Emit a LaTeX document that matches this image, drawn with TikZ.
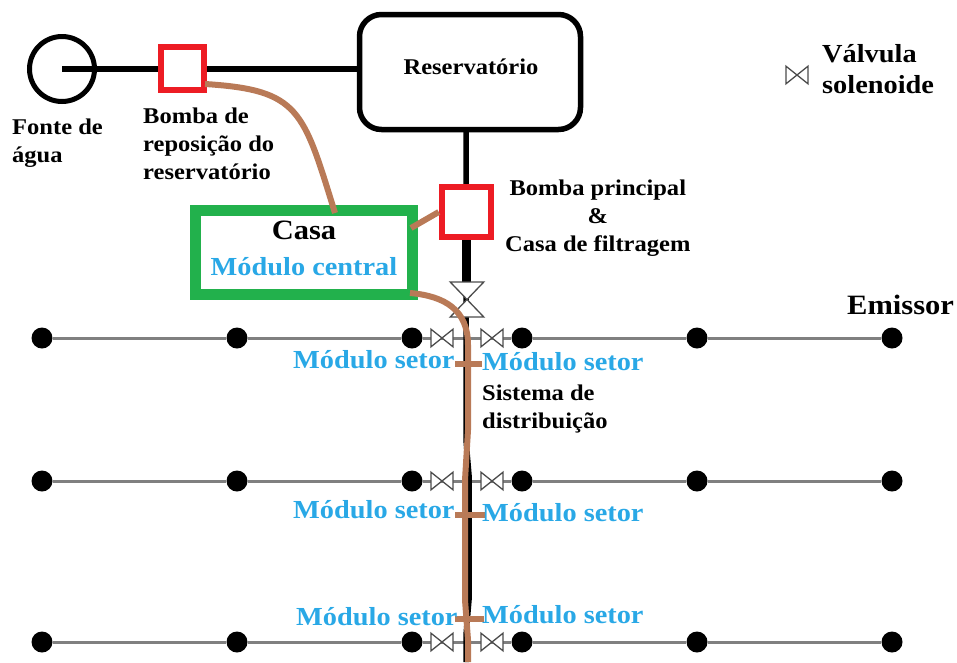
\documentclass[tikz,border=0pt]{standalone}
\usepackage{fontspec}
\setmainfont[FakeStretch=1.09]{Liberation Serif}
\definecolor{pipebrown}{HTML}{B97A57}
\definecolor{pumpred}{HTML}{ED1C24}
\definecolor{housegreen}{HTML}{22B14C}
\definecolor{moduleblue}{HTML}{29A8E6}
\tikzset{
  pump/.style={draw=pumpred, line width=6pt, fill=white, inner sep=0pt},
  dot/.style={circle, fill=black, inner sep=0pt, minimum size=21pt},
  pipe/.style={line width=5.5pt, black},
  branch/.style={line width=3pt, black!50},
  cable/.style={line width=6pt, pipebrown},
  lbl/.style={font=\bfseries\fontsize{22.5}{28}\selectfont, align=left, anchor=west, inner sep=0pt},
  module/.style={font=\bfseries\fontsize{26}{26}\selectfont, text=moduleblue, anchor=west, inner sep=0pt},
  valve/.pic={
    \draw [fill=white, draw=black!70, line width=1.3pt] (-1,-0.8) -- (1,0.8) -- (1,-0.8) -- (-1,0.8) -- cycle;
  }
}
\begin{document}
\begin{tikzpicture}[x=1pt,y=-1pt]
\useasboundingbox (0,0) rectangle (957,662);

% emitter rows
\foreach \yy/\rr in {338/a,481/b,642/c}{
  \foreach \xx/\nn in {42/1,237/2,412/3,522/4,697/5,892/6}{
    \node [dot] (e\rr\nn) at (\xx,\yy) {};
  }
  \draw [branch] (e\rr1) -- (e\rr2);
  \draw [branch] (e\rr2) -- (e\rr3);
  \draw [branch] (e\rr3) -- (e\rr4);
  \draw [branch] (e\rr4) -- (e\rr5);
  \draw [branch] (e\rr5) -- (e\rr6);
  \pic [scale=11] at (442,\yy) {valve};
  \pic [scale=11] at (492,\yy) {valve};
}
\pic [scale=11] at (797,75) {valve};

% supply line
\node [circle, draw, line width=5pt, inner sep=0pt, minimum size=65pt] (source) at (62,69) {};
\coordinate (sourcein) at (62,69);
\node [draw, line width=5.5pt, rounded corners=22pt, minimum width=221pt, minimum height=115pt, inner sep=0pt] (tank) at (470,72) {};
\draw [pipe] (sourcein) -- (sourcein -| tank.west);
\node [pump, minimum size=43pt] (refill) at (182.500,68) {};
\coordinate (pipeend) at (466,662);
\coordinate (tankout) at (466,130);
\draw [pipe] (tankout) -- (466,440) -- (469,475) -- (469,600) -- (466,635) -- (pipeend);
\draw [line width=9pt] (466,238) -- (466,285);
\node [pump, minimum size=49.500pt] (mainpump) at (466.500,212) {};
\pic [rotate=90, xscale=17.500, yscale=21] at (467,299.500) {valve};

% house
\node [draw=housegreen, line width=11pt, fill=white, minimum width=217pt, minimum height=84pt, inner sep=0pt] (house) at (304,252.500) {};

% control cables
\coordinate (refillout) at (205,84);
\coordinate (housetop) at (335,213);
\coordinate (houseright) at (411,228);
\coordinate (housebottom) at (410,293);
\draw [cable] (refillout) .. controls (300,90) and (303,110) .. (housetop);
\draw [cable] (houseright) -- (mainpump.west);
\draw [cable] (housebottom) .. controls (445,296) and (468,310) .. (468,345) -- (468,430) -- (465,480) -- (465,600) -- (468,640) -- (468,662);
\foreach \yy/\xa/\xb/\nn in {364/455/482/a,515/455/486/b,619/455/484/c}{
  \coordinate (tap\nn l) at (\xa,\yy);
  \coordinate (tap\nn r) at (\xb,\yy);
  \draw [cable] (tap\nn l) -- (tap\nn r);
}

% labels
\node [lbl, anchor=center] (tanklbl) at (471,67) {Reservatório};
\node [lbl] (sourcelbl) at (12,143) {Fonte de\\água};
\node [lbl] (refilllbl) at (143,144) {Bomba de\\reposição do\\reservatório};
\node [lbl, align=center, anchor=north west] (mainlbl) at (505,180) {Bomba principal\\\&\\Casa de filtragem};
\node [lbl] (distlbl) at (482,409) {Sistema de\\distribuição};
\node [lbl, font=\bfseries\fontsize{26}{31}\selectfont] (legendlbl) at (822,69.500) {Válvula\\solenoide};
\node [lbl, font=\bfseries\fontsize{28}{28}\selectfont] (emitterlbl) at (847,305) {Emissor};
\node [lbl, font=\bfseries\fontsize{28}{28}\selectfont, anchor=center] (houselbl) at (304,230) {Casa};
\node [module, anchor=center] (centrallbl) at (304,267) {Módulo central};
\node [module] (m1l) at (293,360) {Módulo setor};
\node [module] (m1r) at (482,362) {Módulo setor};
\node [module] (m2l) at (293,510) {Módulo setor};
\node [module] (m2r) at (482,513) {Módulo setor};
\node [module] (m3l) at (296,617) {Módulo setor};
\node [module] (m3r) at (482,615) {Módulo setor};
\end{tikzpicture}
\end{document}
